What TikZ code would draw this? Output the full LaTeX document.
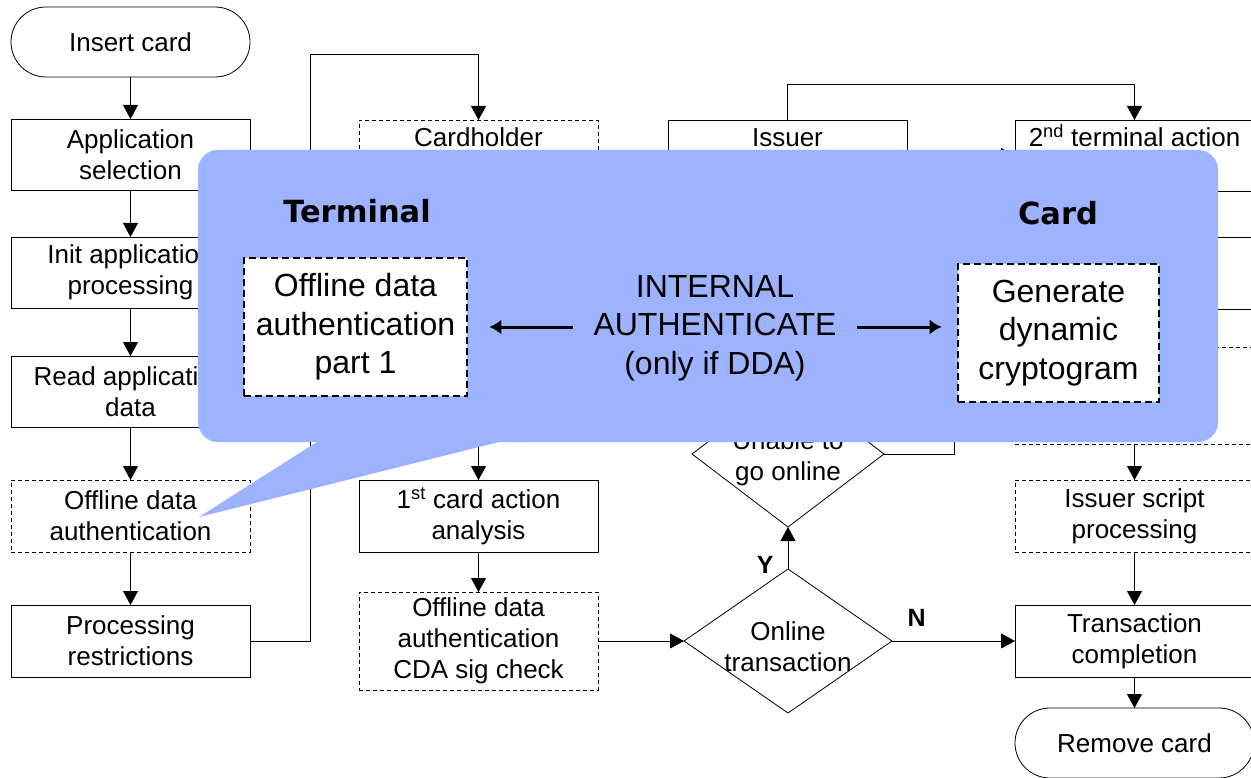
\documentclass[tikz,border=0pt]{standalone}
\usepackage{fontspec}
\setmainfont{Liberation Sans}
\newfontfamily\headfont{DejaVu Sans}
\usetikzlibrary{shapes.geometric,arrows.meta}
\definecolor{callout}{RGB}{157,179,255}
\newcommand\fsA{\fontsize{26}{31}\selectfont}
\newcommand\fsB{\fontsize{32}{38.5}\selectfont}
\tikzset{
  box/.style={draw, line width=0.8pt, minimum width=239pt, minimum height=71pt, inner sep=0pt, outer sep=0pt, align=center, font=\fsA, fill=white},
  dbox/.style={box, dash pattern=on 4pt off 3pt},
  stadium/.style={box, rounded corners=35pt, minimum height=70pt},
  dia/.style={draw, diamond, line width=0.8pt, inner sep=0pt, outer sep=0pt, fill=white},
  lbl/.style={font=\fsA, align=center, inner sep=0pt},
  yn/.style={font=\fontsize{25}{30}\selectfont\bfseries, inner sep=0pt},
  arr/.style={-{Triangle[width=15pt,length=14pt]}, line width=0.8pt},
  thickbox/.style={draw, fill=white, line width=2.6pt, dash pattern=on 7pt off 4pt, inner sep=0pt, align=center, font=\fsB},
  bigarr/.style={-{Latex[length=12pt,width=15pt]}, line width=3pt},
  head/.style={font=\headfont\bfseries\fontsize{30.5}{36}\selectfont, inner sep=0pt}
}
\begin{document}
\begin{tikzpicture}[x=1pt,y=-1pt]
\useasboundingbox (0,0) rectangle (1251,778);
% column 1
\node[stadium] (insert) at (130.5,42) {Insert card};
\node[box] (appsel) at (130.5,154.5) {Application\\selection};
\node[box] (init) at (130.5,272.5) {Init application\\processing};
\node[box] (read) at (130.5,391.5) {Read application\\data};
\node[dbox, minimum height=72pt] (oda) at (130.5,516) {Offline data\\authentication};
\node[box, minimum height=72pt] (proc) at (130.5,641) {Processing\\restrictions};
% column 2
\node[dbox] (cvm) at (478.5,155.5) {\strut Cardholder\\\strut};
\node[box, minimum height=72pt] (cardact) at (478.5,516) {1\textsuperscript{st} card action\\analysis};
\node[dbox, minimum height=98pt] (cda) at (478.5,641) {Offline data\\authentication\\CDA sig check};
% column 3
\node[box] (issuer) at (787.5,155.5) {\strut Issuer\\\strut};
\node[dia, minimum width=192pt, minimum height=146pt] (unable) at (788,454) {};
\node[lbl] at ([yshift=-4pt]unable.center) {Unable to\\go online};
\node[dia, minimum width=208pt, minimum height=144pt] (online) at (788,641) {};
\node[lbl] at ([yshift=-6pt]online.center) {Online\\transaction};
% column 4
\node[box] (term2) at (1134.5,155.5) {\strut 2\textsuperscript{nd} terminal action\\\strut};
\node[box, minimum height=72pt] (c4b) at (1134.5,273) {};
\node[dbox, minimum height=97pt] (c4c) at (1134.5,395.5) {};
\node[dbox, minimum height=72pt] (script) at (1134.5,516) {Issuer script\\processing};
\node[box, minimum height=72pt] (complete) at (1134.5,641) {Transaction\\completion};
\node[stadium] (remove) at (1134.5,743) {Remove card};
% connectors
\draw[arr] (insert) -- (appsel);
\draw[arr] (appsel) -- (init);
\draw[arr] (init) -- (read);
\draw[arr] (read) -- (oda);
\draw[arr] (oda) -- (proc);
\draw[arr] (proc.east) -| (310.5,54) -| (cvm.north);
\draw[arr] (cvm) -- (cardact);
\draw[arr] (cardact) -- (cda);
\draw[arr] (cda.east) -- (online.west);
\draw[arr] (online.north) -- node[yn, left=14pt, pos=0.1] (ylab) {Y} (unable.south);
\draw[arr] (online.east) -- node[yn, above=14pt, pos=0.2] (nlab) {N} (complete.west);
\draw[arr] (unable.east) -- (954,454) |- (term2.west);
\draw[arr] (issuer.north) -- ++(0,-36) -| (term2.north);
\draw[arr] (term2) -- (c4b);
\draw[arr] (c4b) -- (c4c);
\draw[arr] (c4c) -- (script);
\draw[arr] (script) -- (complete);
\draw[arr] (complete) -- (remove);
% callout
\fill[callout] (320,440) -- (199,517) -- (507,440) -- cycle;
\fill[callout, rounded corners=20pt] (198,150) rectangle (1218,442);
\node[head] (tlab) at (357,211) {Terminal};
\node[head] (clab) at (1058,213) {Card};
\node[thickbox, minimum width=223pt, minimum height=138pt] (lbox) at (355.5,327) {Offline data\\authentication\\part 1};
\node[thickbox, minimum width=201pt, minimum height=138pt] (rbox) at (1058.5,333) {Generate\\dynamic\\cryptogram};
\node[font=\fsB, align=center, inner sep=0pt] (mid) at (715,328) {INTERNAL\\AUTHENTICATE\\(only if DDA)};
\draw[bigarr, shorten <=20pt, shorten >=21pt] (mid.west |- lbox.east) -- (lbox.east);
\draw[bigarr, shorten <=20pt, shorten >=15pt] (mid.east |- lbox.east) -- (rbox.west |- lbox.east);
\end{tikzpicture}
\end{document}
